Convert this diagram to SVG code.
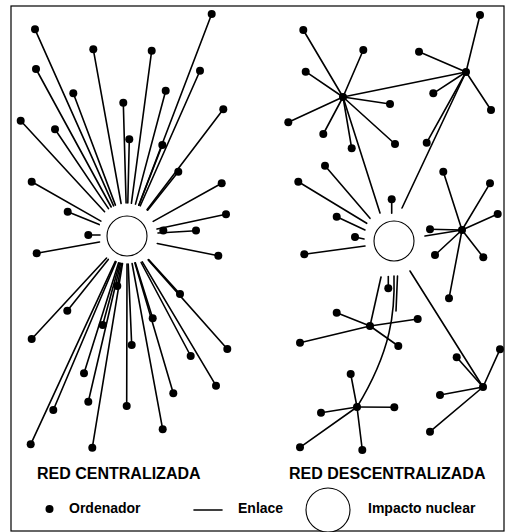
<svg xmlns="http://www.w3.org/2000/svg" width="509" height="532" viewBox="0 0 509 532">
<style>
.dot{fill:#000}
.ln{stroke:#000;stroke-width:1.6;fill:none;stroke-linecap:round}
.ring{fill:#fff;stroke:#000;stroke-width:1.1}
.title{font-family:"Liberation Sans",Arial,sans-serif;font-weight:bold;font-size:16px;fill:#000}
.lbl{font-family:"Liberation Sans",Arial,sans-serif;font-weight:bold;font-size:14px;fill:#000}
</style>
<rect x="11" y="6" width="493" height="525" fill="#fff" stroke="#000" stroke-width="1.2"/>
<g id="connectors" class="ln">
<line x1="211.7" y1="14" x2="138.8" y2="205.2"/>
<line x1="35" y1="29.3" x2="113.6" y2="205.8"/>
<line x1="93.3" y1="49.3" x2="121.1" y2="203.5"/>
<line x1="151.7" y1="50.7" x2="131.4" y2="203.3"/>
<line x1="36" y1="69" x2="111.2" y2="207"/>
<line x1="200" y1="70.7" x2="140.3" y2="205.8"/>
<line x1="73.3" y1="93.3" x2="115.4" y2="205.1"/>
<line x1="165.7" y1="90.7" x2="135.5" y2="204.1"/>
<line x1="123.3" y1="102.7" x2="126.1" y2="203"/>
<line x1="223.3" y1="109.3" x2="147" y2="209.7"/>
<line x1="20.7" y1="120.7" x2="104.6" y2="211.7"/>
<line x1="55" y1="129.3" x2="108.5" y2="208.6"/>
<line x1="129.3" y1="139.3" x2="127.8" y2="203"/>
<line x1="162.3" y1="145" x2="138.9" y2="205.2"/>
<line x1="178.3" y1="171.7" x2="147.6" y2="210.2"/>
<line x1="31.7" y1="181.7" x2="100.9" y2="221.1"/>
<line x1="221.7" y1="183.3" x2="153.2" y2="221.4"/>
<line x1="67.7" y1="211.7" x2="99.2" y2="224.6"/>
<line x1="226" y1="214.3" x2="157" y2="229"/>
<line x1="196" y1="230.7" x2="158" y2="233"/>
<line x1="88.3" y1="235" x2="100" y2="235"/>
<line x1="36.7" y1="253.3" x2="99.5" y2="242"/>
<line x1="218.3" y1="255.7" x2="157.3" y2="243.5"/>
<line x1="180" y1="294" x2="148.6" y2="259.6"/>
<line x1="117.3" y1="286" x2="121.7" y2="263.5"/>
<line x1="67.3" y1="310.7" x2="108.3" y2="259.4"/>
<line x1="152.7" y1="318.3" x2="135.3" y2="262.7"/>
<line x1="102.7" y1="325" x2="119.6" y2="263"/>
<line x1="31.7" y1="339" x2="106.6" y2="258"/>
<line x1="131.7" y1="345" x2="128.2" y2="264"/>
<line x1="227.3" y1="349" x2="148.2" y2="259.9"/>
<line x1="190.7" y1="356" x2="141.1" y2="262.5"/>
<line x1="84" y1="373.3" x2="118.6" y2="262.7"/>
<line x1="216" y1="385.7" x2="142.3" y2="261.8"/>
<line x1="173.3" y1="393.3" x2="134.9" y2="262.9"/>
<line x1="88.3" y1="401.7" x2="120.6" y2="263.3"/>
<line x1="126.7" y1="406" x2="127" y2="264"/>
<line x1="53.3" y1="410" x2="116.1" y2="261.8"/>
<line x1="162.7" y1="429.3" x2="132.1" y2="263.5"/>
<line x1="30.7" y1="444.3" x2="115.3" y2="261.4"/>
<line x1="92.3" y1="447.7" x2="122.5" y2="263.6"/>
<line x1="343" y1="97" x2="303.3" y2="30"/>
<line x1="343" y1="97" x2="363.3" y2="50"/>
<line x1="343" y1="97" x2="305.7" y2="71.7"/>
<line x1="343" y1="97" x2="390" y2="104"/>
<line x1="343" y1="97" x2="288.3" y2="122.3"/>
<line x1="343" y1="97" x2="323.3" y2="134"/>
<line x1="343" y1="97" x2="351.7" y2="148.3"/>
<line x1="343" y1="97" x2="395" y2="144"/>
<line x1="343" y1="97" x2="466" y2="72"/>
<line x1="343" y1="97" x2="380" y2="213"/>
<line x1="466" y1="72" x2="480" y2="15"/>
<line x1="466" y1="72" x2="419" y2="51.7"/>
<line x1="466" y1="72" x2="433.3" y2="93.3"/>
<line x1="466" y1="72" x2="491" y2="110"/>
<line x1="466" y1="72" x2="426.7" y2="142.7"/>
<line x1="466" y1="72" x2="402" y2="208"/>
<line x1="325" y1="165.7" x2="370" y2="218.3"/>
<line x1="298.3" y1="181.7" x2="366.7" y2="223.3"/>
<line x1="391.7" y1="199.3" x2="391.7" y2="213.3"/>
<line x1="336.7" y1="216.7" x2="365" y2="230"/>
<line x1="355" y1="237" x2="364" y2="239"/>
<line x1="304.3" y1="254.3" x2="365" y2="246"/>
<line x1="462" y1="230" x2="443.3" y2="171.7"/>
<line x1="462" y1="230" x2="490" y2="183.3"/>
<line x1="462" y1="230" x2="497.7" y2="214"/>
<line x1="462" y1="230" x2="430" y2="229.3"/>
<line x1="462" y1="230" x2="435" y2="255"/>
<line x1="462" y1="230" x2="483.3" y2="257.3"/>
<line x1="462" y1="230" x2="449" y2="298.3"/>
<line x1="462" y1="230" x2="425" y2="236"/>
<line x1="370" y1="326" x2="336.7" y2="312.7"/>
<line x1="370" y1="326" x2="417.7" y2="319"/>
<line x1="370" y1="326" x2="300" y2="342.7"/>
<line x1="370" y1="326" x2="398.3" y2="346"/>
<line x1="370" y1="326" x2="381" y2="277"/>
<line x1="388.3" y1="288.3" x2="388.3" y2="276.5"/>
<path d="M394 276 C395 310 392 350 357 407"/>
<line x1="397.5" y1="276" x2="396" y2="311"/>
<line x1="357" y1="407" x2="350.7" y2="374"/>
<line x1="357" y1="407" x2="394.3" y2="407.3"/>
<line x1="357" y1="407" x2="321" y2="412.7"/>
<line x1="357" y1="407" x2="300" y2="447.3"/>
<line x1="357" y1="407" x2="362.3" y2="450"/>
<line x1="483" y1="387" x2="500" y2="349.3"/>
<line x1="483" y1="387" x2="456.7" y2="357.3"/>
<line x1="483" y1="387" x2="440" y2="395"/>
<line x1="483" y1="387" x2="430" y2="431.7"/>
<line x1="483" y1="387" x2="410" y2="271"/>
</g>
<g id="impact-centralized"><circle class="ring" cx="127" cy="236" r="20"/></g>
<g id="impact-decentralized"><circle class="ring" cx="394" cy="241" r="20"/></g>
<g id="nodes-centralized" class="dot">
<g id="c1"><circle cx="211.7" cy="14" r="4"/></g>
<g id="c2"><circle cx="35" cy="29.3" r="4"/></g>
<g id="c3"><circle cx="93.3" cy="49.3" r="4"/></g>
<g id="c4"><circle cx="151.7" cy="50.7" r="4"/></g>
<g id="c5"><circle cx="36" cy="69" r="4"/></g>
<g id="c6"><circle cx="200" cy="70.7" r="4"/></g>
<g id="c7"><circle cx="73.3" cy="93.3" r="4"/></g>
<g id="c8"><circle cx="165.7" cy="90.7" r="4"/></g>
<g id="c9"><circle cx="123.3" cy="102.7" r="4"/></g>
<g id="c10"><circle cx="223.3" cy="109.3" r="4"/></g>
<g id="c11"><circle cx="20.7" cy="120.7" r="4"/></g>
<g id="c12"><circle cx="55" cy="129.3" r="4"/></g>
<g id="c13"><circle cx="129.3" cy="139.3" r="4"/></g>
<g id="c14"><circle cx="162.3" cy="145" r="4"/></g>
<g id="c15"><circle cx="178.3" cy="171.7" r="4"/></g>
<g id="c16"><circle cx="31.7" cy="181.7" r="4"/></g>
<g id="c17"><circle cx="221.7" cy="183.3" r="4"/></g>
<g id="c18"><circle cx="67.7" cy="211.7" r="4"/></g>
<g id="c19"><circle cx="226" cy="214.3" r="4"/></g>
<g id="c20"><circle cx="163.3" cy="230.5" r="4"/></g>
<g id="c21"><circle cx="196" cy="230.5" r="4"/></g>
<g id="c22"><circle cx="88.3" cy="235" r="4"/></g>
<g id="c23"><circle cx="36.7" cy="253.3" r="4"/></g>
<g id="c24"><circle cx="218.3" cy="255.7" r="4"/></g>
<g id="c25"><circle cx="180" cy="294" r="4"/></g>
<g id="c26"><circle cx="117.3" cy="286" r="4"/></g>
<g id="c27"><circle cx="67.3" cy="310.7" r="4"/></g>
<g id="c28"><circle cx="152.7" cy="318.3" r="4"/></g>
<g id="c29"><circle cx="102.7" cy="325" r="4"/></g>
<g id="c30"><circle cx="31.7" cy="339" r="4"/></g>
<g id="c31"><circle cx="131.7" cy="345" r="4"/></g>
<g id="c32"><circle cx="227.3" cy="349" r="4"/></g>
<g id="c33"><circle cx="190.7" cy="356" r="4"/></g>
<g id="c34"><circle cx="84" cy="373.3" r="4"/></g>
<g id="c35"><circle cx="216" cy="385.7" r="4"/></g>
<g id="c36"><circle cx="173.3" cy="393.3" r="4"/></g>
<g id="c37"><circle cx="88.3" cy="401.7" r="4"/></g>
<g id="c38"><circle cx="126.7" cy="406" r="4"/></g>
<g id="c39"><circle cx="53.3" cy="410" r="4"/></g>
<g id="c40"><circle cx="162.7" cy="429.3" r="4"/></g>
<g id="c41"><circle cx="30.7" cy="444.3" r="4"/></g>
<g id="c42"><circle cx="92.3" cy="447.7" r="4"/></g>
</g>
<g id="nodes-decentralized" class="dot">
<g id="h1"><circle cx="343" cy="97" r="4"/></g>
<g id="h2"><circle cx="466" cy="72" r="4"/></g>
<g id="h3"><circle cx="462" cy="230" r="4"/></g>
<g id="h4"><circle cx="370" cy="326" r="4"/></g>
<g id="h5"><circle cx="357" cy="407" r="4"/></g>
<g id="h6"><circle cx="483" cy="387" r="4"/></g>
<g id="d1"><circle cx="303.3" cy="30" r="4"/></g>
<g id="d2"><circle cx="363.3" cy="50" r="4"/></g>
<g id="d3"><circle cx="305.7" cy="71.7" r="4"/></g>
<g id="d4"><circle cx="390" cy="104" r="4"/></g>
<g id="d5"><circle cx="288.3" cy="122.3" r="4"/></g>
<g id="d6"><circle cx="323.3" cy="134" r="4"/></g>
<g id="d7"><circle cx="351.7" cy="148.3" r="4"/></g>
<g id="d8"><circle cx="395" cy="144" r="4"/></g>
<g id="d9"><circle cx="480" cy="15" r="4"/></g>
<g id="d10"><circle cx="419" cy="51.7" r="4"/></g>
<g id="d11"><circle cx="433.3" cy="93.3" r="4"/></g>
<g id="d12"><circle cx="491" cy="110" r="4"/></g>
<g id="d13"><circle cx="426.7" cy="142.7" r="4"/></g>
<g id="d14"><circle cx="325" cy="165.7" r="4"/></g>
<g id="d15"><circle cx="298.3" cy="181.7" r="4"/></g>
<g id="d16"><circle cx="391.7" cy="199.3" r="4"/></g>
<g id="d17"><circle cx="336.7" cy="216.7" r="4"/></g>
<g id="d18"><circle cx="355" cy="237" r="4"/></g>
<g id="d19"><circle cx="304.3" cy="254.3" r="4"/></g>
<g id="d20"><circle cx="443.3" cy="171.7" r="4"/></g>
<g id="d21"><circle cx="490" cy="183.3" r="4"/></g>
<g id="d22"><circle cx="497.7" cy="214" r="4"/></g>
<g id="d23"><circle cx="430" cy="229.3" r="4"/></g>
<g id="d24"><circle cx="435" cy="255" r="4"/></g>
<g id="d25"><circle cx="483.3" cy="257.3" r="4"/></g>
<g id="d26"><circle cx="449" cy="298.3" r="4"/></g>
<g id="d27"><circle cx="388.3" cy="288.3" r="4"/></g>
<g id="d28"><circle cx="336.7" cy="312.7" r="4"/></g>
<g id="d29"><circle cx="417.7" cy="319" r="4"/></g>
<g id="d30"><circle cx="300" cy="342.7" r="4"/></g>
<g id="d31"><circle cx="398.3" cy="346" r="4"/></g>
<g id="d32"><circle cx="350.7" cy="374" r="4"/></g>
<g id="d33"><circle cx="394.3" cy="407.3" r="4"/></g>
<g id="d34"><circle cx="321" cy="412.7" r="4"/></g>
<g id="d35"><circle cx="300" cy="447.3" r="4"/></g>
<g id="d36"><circle cx="362.3" cy="450" r="4"/></g>
<g id="d37"><circle cx="500" cy="349.3" r="4"/></g>
<g id="d38"><circle cx="456.7" cy="357.3" r="4"/></g>
<g id="d39"><circle cx="440" cy="395" r="4"/></g>
<g id="d40"><circle cx="430" cy="431.7" r="4"/></g>
</g>
<g id="titles">
<text class="title" x="37" y="479">RED CENTRALIZADA</text>
<text class="title" x="289" y="479">RED DESCENTRALIZADA</text>
</g>
<g id="legend">
<circle class="dot" cx="49.5" cy="509" r="4"/>
<text class="lbl" x="69" y="512.5">Ordenador</text>
<line class="ln" x1="194" y1="510" x2="222" y2="510"/>
<text class="lbl" x="238" y="512.5">Enlace</text>
<circle class="ring" cx="328" cy="510" r="22"/>
<text class="lbl" x="368" y="512.5">Impacto nuclear</text>
</g>
</svg>
